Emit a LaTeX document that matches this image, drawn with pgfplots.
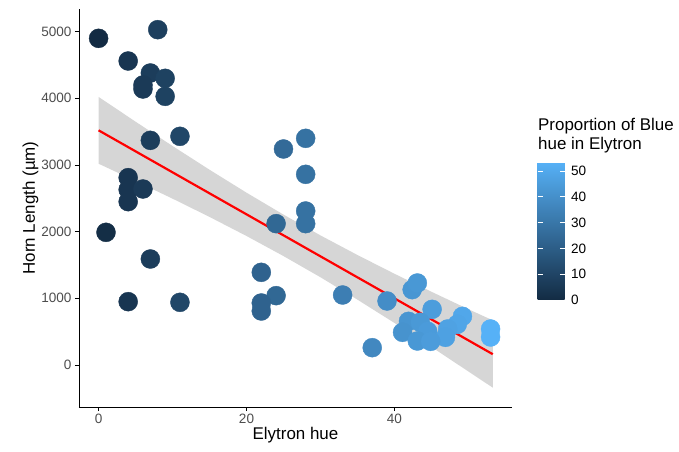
\documentclass[border=0pt]{standalone}
\usepackage{pgfplots}
\pgfplotsset{compat=1.18}
\usepackage{fontspec}
\setmainfont{Liberation Sans}
\definecolor{lowc}{HTML}{132B43}
\definecolor{highc}{HTML}{56B1F7}
\definecolor{tickgrey}{HTML}{4D4D4D}
\definecolor{grey60}{HTML}{999999}

% elytron hue, horn length
\pgfplotstableread{
x y
0 4900
8 5030
4 4560
7 4380
6 4200
9 4300
6 4140
9 4030
7 3370
11 3430
4 2810
4 2630
6 2640
4 2450
1 1990
7 1590
4 950
11 940
25 3240
28 3400
28 2860
28 2310
28 2120
24 2120
22 1390
24 1040
22 930
22 810
33 1050
37 260
39 960
42.4 1130
43.1 1230
45.1 835
49.2 730
41.9 655
43.5 640
48.5 610
41.1 490
44.5 505
47.2 540
43.1 360
46.9 415
44.9 355
53 540
53 420
}\hues

\begin{document}
\begin{tikzpicture}
\begin{axis}[
  scale only axis,
  width=433bp, height=398bp,
  xmin=-2.65, xmax=55.9,
  ymin=-630, ymax=5340,
  axis x line=bottom, axis y line=left,
  axis line style={-, line width=0.8pt},
  xtick={0,20,40},
  ytick={0,1000,2000,3000,4000,5000},
  tick align=outside,
  major tick length=4bp,
  tick style={black, line width=0.6pt},
  ticklabel style={font=\fontsize{13.6}{15}\selectfont, text=tickgrey},
  /pgf/number format/assume math mode=true,
  /pgf/number format/1000 sep={},
  xlabel={Elytron hue},
  ylabel={Horn Length (µm)},
  label style={font=\fontsize{17}{20}\selectfont},
  xlabel style={yshift=4bp},
  ylabel style={yshift=-4bp},
  colormap={bluegrad}{color=(lowc) color=(highc)},
  point meta min=0, point meta max=53.5,
  colorbar,
  colorbar/width=27bp,
  colorbar style={
    at={(parent axis.south east)},
    anchor=south west,
    xshift=17bp, yshift=107bp,
    height=138bp,
    scale only axis,
    axis on top,
    ytick={0,10,20,30,40,50},
    axis line style={draw=none},
    tick align=inside,
    major tick length=5bp,
    ytick pos=both,
    yticklabel pos=right,
    tick style={white, line width=0.8pt},
    /pgf/number format/assume math mode=true,
    yticklabel style={font=\fontsize{13.6}{15}\selectfont, text=black, xshift=3bp},
  },
  clip=false,
]
\addplot[scatter, only marks, mark=*, mark size=9.5bp, point meta=explicit,
  scatter/use mapped color={draw=mapped color, fill=mapped color}]
  table[x=x, y=y, meta=x] {\hues};
% confidence band
\addplot[draw=none, fill=grey60, fill opacity=0.4] coordinates {
(0,4021)(5,3650)(10,3285)(15,2929)(20,2585)(25,2256)(30,1944)(35,1650)(40,1369)(45,1099)(50,837)(53.3,670)
(53.3,-340)(50,-97)(45,271)(40,631)(35,980)(30,1316)(25,1634)(20,1935)(15,2221)(10,2495)(5,2760)(0,3019)
} -- cycle;
\addplot[red, line width=2.2pt] coordinates {(0,3520)(53.3,162)};
\node[anchor=north west, align=left, font=\fontsize{17}{19}\selectfont, inner sep=0pt]
  at ([xshift=26bp,yshift=289bp]current axis.south east) {Proportion of Blue\\hue in Elytron};
\end{axis}
\path (current axis.south west) ++(-79bp,-45bp) rectangle ++(679bp,452bp);
\end{tikzpicture}
\end{document}
